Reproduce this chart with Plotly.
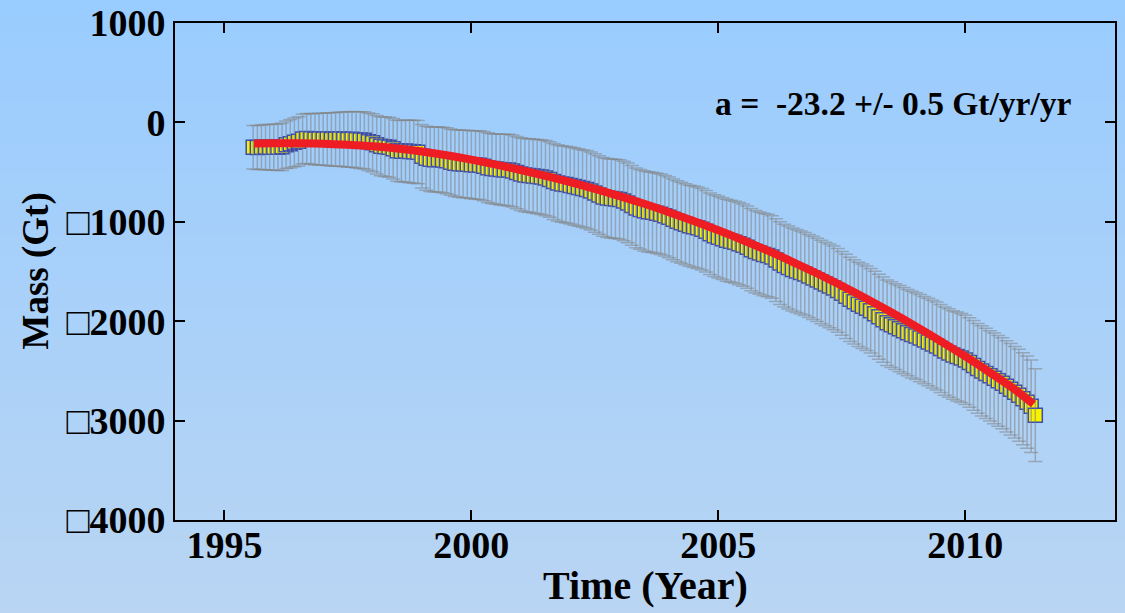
import numpy as np
import plotly.graph_objects as go

# Monthly mass anomaly series (Gt), first sample in August 1995
start_year = 1995 + 7 / 12
mass = [
    -250, -252, -250, -248, -250,
    -250, -250, -245, -225, -215, -200, -190, -168, -162, -165, -170, -168,
    -170, -168, -172, -170, -168, -170, -172, -170, -175, -178, -180, -195,
    -205, -225, -240, -245, -250, -265, -285, -290, -288, -292, -295, -300,
    -340, -360, -370, -375, -372, -378, -385, -400, -410, -415, -418, -420,
    -425, -428, -430, -440, -455, -465, -470, -475, -478, -480, -490, -505,
    -520, -530, -535, -540, -545, -550, -560, -575, -595, -610, -620, -625,
    -635, -645, -655, -665, -675, -690, -710, -730, -750, -760, -765, -770,
    -775, -790, -810, -835, -860, -875, -890, -900, -905, -915, -925, -940,
    -955, -975, -995, -1010, -1025, -1040, -1050, -1060, -1075, -1095, -1120, -1140,
    -1155, -1170, -1185, -1195, -1205, -1220, -1235, -1255, -1280, -1300, -1315, -1330,
    -1340, -1355, -1385, -1415, -1440, -1460, -1480, -1495, -1510, -1525, -1545, -1565,
    -1585, -1605, -1625, -1645, -1665, -1690, -1720, -1750, -1780, -1805, -1830, -1850,
    -1870, -1895, -1925, -1955, -1985, -2015, -2035, -2055, -2075, -2095, -2115, -2135,
    -2150, -2170, -2190, -2210, -2230, -2250, -2275, -2300, -2320, -2340, -2355, -2370,
    -2390, -2415, -2445, -2475, -2500, -2525, -2550, -2575, -2600, -2625, -2655, -2685,
    -2715, -2745, -2780, -2815, -2855, -2945,
]

# One-sigma uncertainty of each monthly value (Gt)
sigma = [
    220, 222, 225, 228, 230,
    232, 235, 238, 240, 243, 245, 248, 250, 252, 255, 258, 260,
    262, 265, 268, 270, 272, 275, 278, 280, 283, 285, 288, 290,
    292, 295, 297, 300, 302, 305, 307, 310, 312, 314, 316, 318,
    320, 322, 324, 326, 328, 330, 332, 334, 336, 338, 340, 341,
    342, 344, 346, 348, 350, 352, 354, 356, 358, 360, 362, 364,
    366, 368, 370, 372, 374, 376, 378, 380, 382, 384, 385, 386,
    388, 389, 390, 391, 392, 393, 394, 395, 396, 397, 398, 399,
    400, 400, 401, 401, 402, 402, 403, 403, 404, 404, 405, 405,
    406, 406, 407, 407, 408, 408, 409, 409, 410, 410, 410, 411,
    411, 411, 412, 412, 412, 413, 413, 413, 414, 414, 414, 415,
    415, 415, 416, 416, 416, 417, 417, 417, 418, 418, 418, 419,
    419, 420, 420, 421, 421, 422, 422, 423, 423, 424, 424, 425,
    425, 426, 427, 428, 429, 430, 431, 432, 433, 434, 435, 436,
    437, 438, 439, 440, 441, 442, 443, 444, 445, 446, 447, 448,
    449, 450, 451, 452, 453, 454, 455, 456, 457, 458, 459, 460,
    461, 462, 463, 464, 465, 466,
]

# Accelerating trend curve
fit_years = [1995.6, 1996.0, 1996.5, 1997.0, 1997.5, 1998.0, 1998.5, 1999.0, 1999.5,
             2000.0, 2000.5, 2001.0, 2001.5, 2002.0, 2002.5, 2003.0, 2003.5, 2004.0,
             2004.5, 2005.0, 2005.5, 2006.0, 2006.5, 2007.0, 2007.5, 2008.0, 2008.5,
             2009.0, 2009.5, 2010.0, 2010.5, 2011.0, 2011.38]
fit_mass = [-212, -210, -210, -214, -225, -240, -262, -293, -331,
            -375, -425, -479, -537, -600, -668, -741, -819, -903,
            -992, -1086, -1185, -1290, -1402, -1520, -1644, -1774, -1910,
            -2052, -2200, -2355, -2517, -2687, -2835]

x_ticks = [1995, 2000, 2005, 2010]
y_ticks = [1000, 0, -1000, -2000, -3000, -4000]
y_tick_text = ["1000", "0", "\u25a11000", "\u25a12000", "\u25a13000", "\u25a14000"]

trend_label = "a =\u00a0 -23.2 +/- 0.5 Gt/yr/yr"

time = start_year + np.arange(len(mass)) / 12.0

W, H = 1125, 613
L, R, T, B = 175, 10, 23, 93
plot_w = W - L - R
plot_h = H - T - B

SERIF = "Liberation Serif, Times New Roman, serif"

fig = go.Figure()

# Yellow monthly markers
fig.add_trace(go.Scatter(
    x=time, y=mass, mode="markers",
    marker=dict(symbol="square", size=14, color="#F6F200",
                line=dict(color="#3B4CB0", width=1.5)),
    hoverinfo="skip", showlegend=False,
))

# Error bars drawn over the markers
fig.add_trace(go.Scatter(
    x=time, y=mass, mode="markers",
    marker=dict(size=1, color="rgba(0,0,0,0)"),
    error_y=dict(type="data", array=sigma, visible=True,
                 color="rgba(130,130,130,0.55)", thickness=1.5, width=7),
    hoverinfo="skip", showlegend=False,
))

# Red trend curve
fig.add_trace(go.Scatter(
    x=fit_years, y=fit_mass, mode="lines",
    line=dict(color="#EE1D24", width=8, shape="spline"),
    hoverinfo="skip", showlegend=False,
))

# Vertical background gradient, built from thin bands in paper coordinates
top_rgb = np.array([153, 204, 255])
bot_rgb = np.array([185, 213, 243])
n_bands = 60
shapes = []
for i in range(n_bands):
    p0 = H * i / n_bands
    p1 = H * (i + 1) / n_bands + 1
    c = top_rgb + (bot_rgb - top_rgb) * (i + 0.5) / n_bands
    shapes.append(dict(
        type="rect", xref="paper", yref="paper", layer="below",
        x0=-L / plot_w - 0.01, x1=1 + R / plot_w + 0.01,
        y0=(H - B - p1) / plot_h, y1=(H - B - p0) / plot_h,
        line=dict(width=0),
        fillcolor="rgb(%d,%d,%d)" % tuple(int(round(v)) for v in c),
    ))

axis_common = dict(
    showline=True, linecolor="black", linewidth=2, mirror="ticks",
    ticks="inside", ticklen=10, tickwidth=1.5, tickcolor="black",
    showgrid=False, zeroline=False, automargin=False,
    tickfont=dict(family=SERIF, size=38, color="black", weight="bold"),
)

fig.update_layout(
    width=W, height=H, autosize=False,
    margin=dict(l=L, r=R, t=T, b=B, pad=0),
    paper_bgcolor="rgb(153,204,255)",
    plot_bgcolor="rgba(0,0,0,0)",
    shapes=shapes,
    xaxis=dict(range=[1994.0, 2013.03], tickvals=x_ticks,
               ticktext=[str(v) for v in x_ticks], ticklabelstandoff=-10,
               **axis_common),
    yaxis=dict(range=[-4000, 1000], tickvals=y_ticks, ticktext=y_tick_text,
               ticklabelstandoff=0, **axis_common),
    annotations=[
        dict(text=trend_label, xref="paper", yref="paper",
             x=(713 - L) / plot_w, y=(H - B - 104) / plot_h,
             xanchor="left", yanchor="middle", showarrow=False,
             font=dict(family=SERIF, size=33.5, color="black", weight="bold")),
        dict(text="Time (Year)", xref="paper", yref="paper",
             x=0.5, y=(H - B - 585) / plot_h, xanchor="center", yanchor="middle",
             showarrow=False,
             font=dict(family=SERIF, size=40, color="black", weight="bold")),
        dict(text="Mass (Gt)", xref="paper", yref="paper",
             x=(35 - L) / plot_w, y=0.5, xanchor="center", yanchor="middle",
             textangle=-90, showarrow=False,
             font=dict(family=SERIF, size=37, color="black", weight="bold")),
    ],
)

fig.write_html("out.html")
